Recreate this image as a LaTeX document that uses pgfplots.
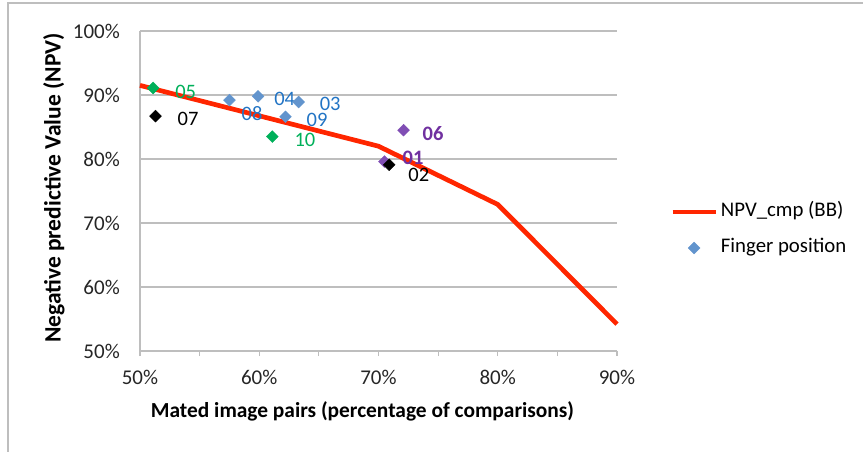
\documentclass[border=0pt]{standalone}
\usepackage{fontspec}
\setmainfont{Carlito}
\usepackage{pgfplots}
\pgfplotsset{compat=1.18}
\definecolor{npvred}{RGB}{255,38,0}
\definecolor{mblue}{RGB}{98,148,205}
\definecolor{tblue}{RGB}{34,116,196}
\definecolor{mgreen}{RGB}{0,176,90}
\definecolor{mpurple}{RGB}{128,78,180}
\definecolor{tpurple}{RGB}{112,48,160}
\definecolor{gridgray}{RGB}{190,190,190}
\begin{document}
\begin{tikzpicture}[x=1pt,y=1pt]
\path[use as bounding box] (0,0) rectangle (863,-452);
\draw[gridgray, line width=1.3pt] (8,-452) -- (8,-3) -- (863,-3);
\begin{axis}[
  at={(140pt,-351pt)}, anchor=south west,
  scale only axis, width=477pt, height=320pt,
  xmin=50, xmax=90, ymin=50, ymax=100,
  axis x line*=bottom, axis y line*=left,
  axis line style={gridgray, line width=1.2pt, -},
  xtick={50,60,...,90}, minor xtick={55,65,75,85},
  ytick={50,60,...,100},
  ymajorgrids, grid style={gridgray, line width=1.2pt},
  tick align=outside,
  major tick length=5pt, minor tick length=5pt,
  x tick style={gridgray, line width=1.2pt},
  y tick style={draw=none},
  xticklabel={\pgfmathprintnumber{\tick}\%},
  yticklabel={\pgfmathprintnumber{\tick}\%},
  /pgf/number format/assume math mode=true,
  ticklabel style={font=\fontsize{21}{23}\selectfont, text=black!85},
  yticklabel style={inner sep=0pt, anchor=east, xshift=-15pt},
  xticklabel style={inner sep=0pt, anchor=north, yshift=-14pt},
  xlabel={\textbf{Mated image pairs (percentage of comparisons)}},
  ylabel={\textbf{Negative predictive Value (NPV)}},
  xlabel style={font=\fontsize{21.4}{23}\selectfont, at={([xshift=-16pt,yshift=-60pt]axis description cs:0.5,0)}, anchor=center, inner sep=0pt},
  ylabel style={font=\fontsize{23.5}{25}\selectfont, at={([xshift=-86pt,yshift=3pt]axis description cs:0,0.5)}, anchor=center, inner sep=0pt},
  clip=false,
  legend image code/.code={\draw[mark repeat=2,mark phase=2,#1] plot coordinates {(0pt,0pt) (21.5pt,0pt) (43pt,0pt)};},
  legend style={draw=none, fill=none, at={([xshift=53pt,yshift=-39pt]axis description cs:1,0.5)}, anchor=west,
    font=\fontsize{20.8}{23}\selectfont, inner sep=0pt, row sep=20pt,
    nodes={inner sep=0pt, text height=12pt, text depth=4pt},
    /tikz/every odd column/.append style={column sep=3pt}},
  legend cell align=left,
]
\addplot[npvred, line width=4.7pt, line join=round] coordinates {
 (50,91.5) (70,82.0) (80,72.9) (90,54.2)
};
\addlegendentry{NPV\_cmp (BB)}
\addplot[only marks, mark=square*, mark size=4.2pt, mark options={rotate=45, draw=mblue, fill=mblue}] coordinates {
 (57.5,89.2) (59.9,89.8) (63.3,88.9) (62.2,86.6)
};
\addlegendentry{Finger position}
\addplot[only marks, mark=square*, mark size=4.2pt, mark options={rotate=45, draw=mgreen, fill=mgreen}, forget plot] coordinates {
 (51.1,91.1) (61.1,83.5)
};
\addplot[only marks, mark=square*, mark size=4.2pt, mark options={rotate=45, draw=mpurple, fill=mpurple}, forget plot] coordinates {
 (72.1,84.5) (70.5,79.6)
};
\addplot[only marks, mark=square*, mark size=4.2pt, mark options={rotate=45, draw=black, fill=black}, forget plot] coordinates {
 (51.3,86.7) (70.9,79.1)
};
\begin{scope}[every node/.style={anchor=west, inner sep=0pt, font=\fontsize{20.5}{22}\selectfont}]
\node[text=mgreen, xshift=22pt, yshift=-4pt] at (axis cs:51.1,91.1) {05};
\node[text=black, xshift=22pt, yshift=-3pt] at (axis cs:51.3,86.7) {07};
\node[text=tblue, xshift=12pt, yshift=-13pt] at (axis cs:57.5,89.2) {08};
\node[text=tblue, xshift=16pt, yshift=-3pt] at (axis cs:59.9,89.8) {04};
\node[text=tblue, xshift=21pt, yshift=-2pt] at (axis cs:63.3,88.9) {03};
\node[text=tblue, xshift=21pt, yshift=-3pt] at (axis cs:62.2,86.6) {09};
\node[text=mgreen, xshift=22pt, yshift=-3pt] at (axis cs:61.1,83.5) {10};
\node[text=tpurple, xshift=19pt, yshift=-3pt, font=\fontsize{20.5}{22}\selectfont\bfseries] at (axis cs:72.1,84.5) {06};
\node[text=tpurple, xshift=18pt, yshift=4pt, font=\fontsize{20.5}{22}\selectfont\bfseries] at (axis cs:70.5,79.6) {01};
\node[text=black, xshift=19pt, yshift=-10pt] at (axis cs:70.9,79.1) {02};
\end{scope}
\end{axis}
\end{tikzpicture}
\end{document}
